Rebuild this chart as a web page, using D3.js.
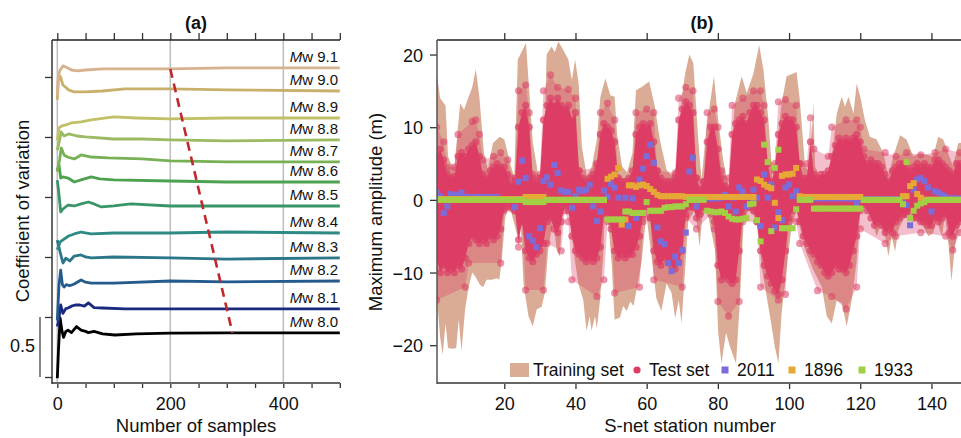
<!DOCTYPE html>
<html>
<head>
<meta charset="utf-8">
<script src="https://cdn.jsdelivr.net/npm/d3@7"></script>
<style>
    body { margin: 0; background: #fff; }
    svg text { font-family: "Liberation Sans", Arial, Helvetica, sans-serif; fill: #111; }
</style>
</head>
<body>
<svg id="fig" width="961" height="438"></svg>
<script>
//
// (a) convergence of coefficient of variation, (b) max amplitude per S-net station
//

// ---- panel (a) data: [sample count, offset CV]
var magnitudes = ['8.0', '8.1', '8.2', '8.3', '8.4', '8.5', '8.6', '8.7', '8.8', '8.9', '9.0', '9.1'];
var magColors = ['#000000', '#1a2a7e', '#255a8c', '#2b7688', '#2e8a84', '#389568', '#4da250', '#78b055', '#9bba62', '#c0c068', '#c8b06c', '#d8b28f'];
var cv80 = [[0, -0.01], [2, 0.22], [5, 0.49], [8, 0.39], [11, 0.33], [15, 0.38], [19, 0.39], [25, 0.37], [34, 0.42], [42, 0.39], [50, 0.38], [55, 0.37], [65, 0.38], [80, 0.36], [102, 0.35], [140, 0.36], [200, 0.365], [300, 0.367], [500, 0.367]];
var cv81 = [[0, 0.42], [3, 0.49], [6, 0.6], [10, 0.53], [15, 0.57], [19, 0.575], [25, 0.59], [32, 0.6], [40, 0.6], [48, 0.59], [55, 0.617], [65, 0.578], [80, 0.575], [120, 0.567], [200, 0.567], [300, 0.567], [500, 0.567]];
var cv82 = [[0, 0.47], [3, 0.77], [6, 0.89], [9, 0.77], [12, 0.75], [16, 0.77], [22, 0.76], [30, 0.775], [42, 0.808], [50, 0.79], [60, 0.783], [100, 0.783], [200, 0.8], [300, 0.792], [500, 0.8]];
var cv83 = [[0, 1.14], [5, 1.04], [10, 0.95], [15, 0.99], [22, 0.967], [30, 1.008], [42, 1.017], [50, 1.0], [60, 0.992], [100, 1.0], [200, 0.992], [300, 0.983], [500, 0.992]];
var cv84 = [[0, 1.06], [5, 1.125], [10, 1.142], [20, 1.175], [30, 1.192], [42, 1.208], [60, 1.192], [100, 1.2], [200, 1.2], [300, 1.208], [500, 1.2]];
var cv85 = [[0, 1.64], [3, 1.52], [6, 1.375], [10, 1.4], [19, 1.433], [30, 1.425], [42, 1.442], [55, 1.458], [65, 1.442], [78, 1.417], [100, 1.425], [130, 1.442], [200, 1.425], [300, 1.425], [500, 1.425]];
var cv86 = [[0, 1.725], [3, 1.767], [6, 1.658], [10, 1.667], [19, 1.658], [30, 1.625], [42, 1.642], [60, 1.667], [75, 1.65], [100, 1.642], [200, 1.633], [300, 1.625], [500, 1.625]];
var cv87 = [[0, 1.71], [4, 1.81], [7, 1.908], [12, 1.85], [18, 1.833], [30, 1.817], [42, 1.85], [60, 1.833], [90, 1.825], [150, 1.817], [200, 1.8], [300, 1.792], [500, 1.792]];
var cv88 = [[0, 1.89], [4, 1.975], [7, 2.042], [12, 2.008], [20, 2.025], [35, 2.008], [50, 2.0], [100, 1.983], [150, 1.983], [200, 1.975], [300, 1.967], [500, 1.975]];
var cv89 = [[0, 1.975], [3, 2.075], [8, 2.092], [15, 2.1], [25, 2.117], [42, 2.125], [60, 2.142], [100, 2.167], [140, 2.158], [200, 2.15], [300, 2.158], [500, 2.158]];
var cv90 = [[0, 2.31], [2, 2.49], [5, 2.508], [10, 2.433], [20, 2.392], [30, 2.375], [50, 2.375], [80, 2.383], [120, 2.4], [200, 2.4], [300, 2.392], [500, 2.383]];
var cv91 = [[0, 2.35], [2, 2.517], [5, 2.558], [10, 2.592], [15, 2.583], [25, 2.558], [35, 2.55], [50, 2.558], [80, 2.567], [150, 2.567], [200, 2.567], [300, 2.575], [500, 2.575]];
var cvCurves = [cv80, cv81, cv82, cv83, cv84, cv85, cv86, cv87, cv88, cv89, cv90, cv91];
var dashLine = [[200, 2.567], [310, 0.367]];
var sampleTicks = [0, 50, 100, 150, 200, 250, 300, 350, 400, 450, 500];
var sampleLabels = [0, 200, 400];
var cvTicks = [0, 0.5, 1, 1.5, 2, 2.5];

// ---- panel (b) data: [station, amplitude m]
var trainHi = [[1, 17.5], [2, 14], [3.5, 13], [4.2, 6], [5, 5], [6, 4.6], [7.6, 13.3], [8.7, 12.4], [9.7, 13.8], [11, 15.5], [12, 18], [13, 14.2], [14.3, 6.4], [15.4, 4.1], [16.8, 7.8], [18.7, 8.7], [20, 8.3], [21.9, 4.6], [22.8, 3.2], [23.8, 19.3], [26.1, 21.6], [27, 15], [28, 8], [29.5, 3.5], [31, 4], [31.9, 20], [33.3, 21.1], [34.2, 20.3], [35.2, 21.8], [36.6, 20.6], [38, 19.3], [39, 16.5], [39.9, 19.3], [40.9, 16], [41.8, 7.3], [43.2, 3.2], [44.6, 4.6], [46, 8.3], [47, 14.2], [48.4, 16.7], [49.8, 14.4], [51, 14.2], [51.7, 9], [53.1, 4.6], [54.5, 3.8], [56, 6.4], [57, 15.1], [58.8, 15.6], [60.7, 16.3], [62.3, 12.8], [63.7, 8.3], [65.6, 4.1], [67, 3.4], [68.4, 4.6], [69.8, 13.8], [70.8, 17.4], [72, 20], [73.1, 18.8], [74.5, 8.3], [75.4, 2.8], [76.8, 10], [78.9, 17], [80.1, 11], [81.5, 5.5], [83, 1.8], [84.8, 13.3], [86.7, 17], [88.1, 14.7], [90, 17.4], [91.6, 21.3], [92.8, 17.9], [94.2, 11], [95.4, 2.8], [96.5, 6.9], [97.9, 13.3], [99.3, 17], [101.2, 17.4], [102.1, 17.6], [103, 13.8], [104.5, 4.6], [105.9, 3.7], [106.8, 13.5], [107.3, 4.6], [108.7, 3.2], [111, 3.7], [112.4, 7.3], [113.4, 11.9], [114.8, 14.2], [115.7, 12.8], [116.7, 14.2], [118.1, 11.9], [119, 16], [120, 14.2], [121.3, 11], [122.7, 8.7], [124.6, 8.3], [126.5, 6.4], [127.9, 3.2], [129.3, 6], [131.2, 8.9], [133, 8.3], [134.9, 6], [136.8, 6.4], [138.6, 6.2], [140.5, 6], [141.9, 8.7], [143.3, 8.3], [144.7, 6.4], [146.1, 4.6], [147.5, 7.8], [150, 8]];
var trainLo = [[1, -13], [2, -19], [2.7, -21.3], [3.5, -17], [4.2, -20.4], [5.5, -20.5], [6.5, -20.4], [7.2, -16.5], [8, -20.8], [9, -15], [10, -12], [11, -10], [11.8, -10.5], [13.2, -11.7], [14.1, -12], [15, -11], [16.5, -11], [17.9, -10.8], [18.6, -11], [19.3, -8.3], [20.2, -2.8], [20.7, -1.4], [22, -1.8], [23.5, -4.6], [24.2, -6], [24.6, -3], [25.4, -11.5], [26.8, -16], [28, -17.4], [29.1, -15.1], [30.5, -14.7], [31.4, -12.8], [32.4, -6.4], [33.8, -2.8], [34.7, -6.9], [35.6, -7.8], [36.3, -1.4], [37.5, -1], [38.5, -2.5], [39.4, -6.9], [40.8, -11.5], [42.2, -13.8], [43.1, -18], [44, -16], [44.5, -18], [45.5, -16], [46, -17.7], [46.9, -13.8], [47.8, -7.5], [48.3, -0.6], [49.2, -3], [50.2, -9], [51, -16.5], [52.5, -16.2], [53.4, -14.6], [54.4, -15.3], [55.4, -14], [56.3, -14.6], [57.7, -11], [58.6, -8.4], [59.9, -2], [61.3, -7.5], [62.7, -13.5], [64.1, -15.3], [65.6, -11.5], [67, -12.8], [68, -16.3], [69, -13.8], [69.8, -17], [70.8, -9.6], [71.7, -2.8], [73.6, -1.4], [74.3, -4], [74.9, -6.4], [75.6, -2.5], [76.8, -1], [79.2, -6.9], [80.1, -18.3], [81, -22.5], [82.3, -18.3], [83.4, -20.2], [85.1, -22.5], [86.2, -13.8], [87.3, -2.3], [89, -1.4], [90.9, -2.8], [92.3, -9.2], [93.7, -13.3], [95.1, -17.4], [96, -20.2], [97, -22.5], [97.9, -15.6], [99.3, -9.6], [100.7, -3.7], [102.1, -1.4], [102.6, -2.8], [104.5, -6.9], [106.8, -9.6], [109.2, -12], [110.6, -16], [112, -17], [113.4, -13.8], [114.8, -14.2], [116.2, -17.4], [117.6, -13.8], [119, -8.3], [120, -1.8], [120.9, -0.9], [122.7, -1.8], [124.6, -5], [125.6, -3.7], [127, -5], [127.9, -7.8], [128.8, -5], [129.8, -7.1], [130.7, -4.1], [132, -2.8], [134, -1.8], [135.8, -2.8], [137.7, -3.7], [139.1, -5], [140.5, -4.6], [141.5, -2.8], [142.9, -5], [143.8, -2.3], [144.7, -5.5], [145.6, -11.2], [146.6, -6.4], [148, -2.8], [150, -3]];
// test set: dense core and scattered outer extent
var testCoreHi = [[1, 6], [2, 7], [3, 5.5], [4, 3.5], [5, 3], [6, 3.2], [7, 6], [8, 6.5], [9, 6], [10, 7], [11, 7.5], [12, 8], [13, 6], [14, 3.5], [15, 3], [16, 4], [17, 4.5], [18, 5], [19, 4.5], [20, 4.5], [21, 3.5], [22, 2], [23, 2.5], [24, 10], [25, 12], [26, 13], [27, 10], [28, 3], [29, 2.5], [30, 3], [31, 11], [32, 13], [33, 14], [34, 13], [35, 14], [36, 13], [37, 12.5], [38, 13], [39, 11], [40, 12], [41, 4], [42, 3], [43, 2.5], [44, 3], [45, 3.5], [46, 5], [47, 9], [48, 10.5], [49, 10], [50, 9.5], [51, 8], [52, 3], [53, 2.5], [54, 2.5], [55, 3], [56, 4], [57, 9], [58, 10], [59, 10.5], [60, 10], [61, 10.5], [62, 8], [63, 4], [64, 3], [65, 2.5], [66, 2.5], [67, 2.5], [68, 3], [69, 11], [70, 12.5], [71, 13.5], [72, 13], [73, 12], [74, 3], [75, 1.5], [76, 2.5], [77, 8], [78, 10], [79, 10], [80, 7], [81, 3], [82, 2], [83, 1.5], [84, 9], [85, 10.5], [86, 11], [87, 11.5], [88, 10.5], [89, 12], [90, 13], [91, 13], [92, 12], [93, 11], [94, 5], [95, 2.5], [96, 4], [97, 9], [98, 10.5], [99, 11.5], [100, 11], [101, 11], [102, 10], [103, 5], [104, 3], [105, 3], [106, 8], [107, 3.5], [108, 3], [109, 3.5], [110, 3.5], [111, 4], [112, 6], [113, 7.5], [114, 8.5], [115, 8], [116, 8.5], [117, 8], [118, 8.5], [119, 9], [120, 8], [121, 6], [122, 5], [123, 5.5], [124, 5], [125, 5], [126, 4.5], [127, 3.5], [128, 2.5], [129, 4], [130, 4.5], [131, 5], [132, 5], [133, 4.5], [134, 4], [135, 4.5], [136, 5], [137, 4.5], [138, 5], [139, 4.5], [140, 4.5], [141, 5.5], [142, 5.5], [143, 5], [144, 4.5], [145, 4], [146, 3.5], [147, 5], [148, 5], [150, 5]];
var testCoreLo = [[1, -8], [2, -10], [3, -9], [4, -10], [5, -9.5], [6, -10], [7, -9], [8, -9.5], [9, -8], [10, -6], [11, -5], [12, -5.5], [13, -6], [14, -5.5], [15, -6], [16, -5], [17, -5.5], [18, -5], [19, -4], [20, -1.2], [21, -0.8], [22, -1], [23, -1.5], [24, -5.5], [25, -3], [26, -7], [27, -8], [28, -8.5], [29, -7.5], [30, -7], [31, -6], [32, -3], [33, -2.5], [34, -4], [35, -4.5], [36, -3], [37, -0.8], [38, -1.5], [39, -5], [40, -7], [41, -7.5], [42, -8], [43, -8.5], [44, -8], [45, -8.5], [46, -8], [47, -6.5], [48, -2], [49, -2], [50, -4], [51, -7], [52, -8], [53, -7.5], [54, -8], [55, -7.5], [56, -7.5], [57, -6.5], [58, -5], [59, -2], [60, -1], [61, -2.5], [62, -7], [63, -8.5], [64, -9], [65, -8], [66, -8.5], [67, -9], [68, -9.5], [69, -8.5], [70, -7], [71, -2], [72, -1], [73, -1], [74, -2.5], [75, -2], [76, -1], [77, -1], [78, -1.5], [79, -3], [80, -9], [81, -11], [82, -10.5], [83, -11], [84, -11.5], [85, -11], [86, -7], [87, -2], [88, -1], [89, -1], [90, -1.5], [91, -3], [92, -7], [93, -9], [94, -10.5], [95, -11.5], [96, -12.5], [97, -13], [98, -11], [99, -7], [100, -2.5], [101, -1.5], [102, -1.2], [103, -3], [104, -5], [105, -6], [106, -7], [107, -7.5], [108, -8.5], [109, -9], [110, -10], [111, -10.5], [112, -10], [113, -9], [114, -9.5], [115, -9.5], [116, -10], [117, -9], [118, -7], [119, -5], [120, -1.5], [121, -0.7], [122, -1.5], [123, -2.5], [124, -3.5], [125, -3], [126, -3.5], [127, -4.5], [128, -4], [129, -4.5], [130, -3], [131, -2.5], [132, -2], [133, -2], [134, -1.5], [135, -2.5], [136, -2.5], [137, -3], [138, -3], [139, -3.5], [140, -3.5], [141, -2.5], [142, -3], [143, -2.5], [144, -2], [145, -4.5], [146, -5], [147, -3.5], [148, -3], [150, -3]];
var testOuterHi = [[1, 10], [3, 8], [4, 4.5], [6, 4.5], [7, 9], [11, 10.8], [12, 11], [13, 9], [14, 5.5], [17, 6], [19, 6.5], [21, 5.5], [22, 3], [23, 3], [24, 15], [26, 15.8], [27, 12], [28, 3.5], [30, 3.5], [31, 15], [33, 17.2], [35, 15.5], [38, 15.2], [40, 14], [41, 4], [46, 4.5], [47, 12], [49, 13.3], [51, 11], [52, 3], [56, 3], [57, 12], [60, 12.5], [62, 12], [63, 4], [68, 3.7], [69, 14], [71, 15.5], [73, 15], [74, 3], [76, 2.5], [77, 12], [79, 12.5], [80, 10], [81, 4], [83, 3], [84, 13], [87, 14], [90, 15], [92, 15], [93, 13], [94, 5], [96, 5], [97, 13.5], [99, 13.8], [102, 13], [103, 5], [105, 5], [106, 11.3], [107, 7], [111, 6], [112, 10], [116, 11], [119, 11], [120, 10], [121, 7], [127, 6.5], [130, 6], [133, 6.5], [137, 6.2], [141, 6.5], [144, 7], [148, 6.5], [150, 6.5]];
var testOuterLo = [[1, -13.8], [9, -12], [10, -8.7], [19, -8.7], [20, -1.5], [23, -1.5], [24, -6.5], [25, -3], [26, -12.4], [31, -12.4], [32, -6], [36, -7], [37, -1.5], [38, -3], [39, -11], [46, -13.3], [48, -11], [49, -3], [50, -3], [51, -12.8], [58, -12], [59, -3], [61, -2.5], [62, -11], [70, -12], [71, -2.5], [74, -4], [78, -2], [79, -4], [80, -14], [83, -16], [86, -14], [87, -3], [91, -3], [92, -12], [97, -13.8], [99, -13], [100, -3], [102, -3], [103, -6], [108, -12.5], [112, -13.3], [116, -15], [119, -12], [120, -4], [127, -6], [130, -5], [137, -4.5], [144, -5], [146, -6.9], [148, -4.5], [150, -4.5]];
// historic events, one value per station 1..150
var ev2011 = [1.0, 0.5, -1.8, -0.9, 0.8, 0.7, 0.7, 1.0, 0.4, 0.4,
    0.4, 0.4, 0.4, 0.4, 0.4, 0.4, 0.4, 0.4, 0.1, 0.1,
    0.1, 0.1, -1.0, 2.5, 5.4, 3.0, -5.0, -5.6, -6.5, -3.9,
    2.6, 3.1, 2.1, 4.8, 3.7, 1.3, 1.1, 1.1, -1.1, 0.5,
    1.4, 1.2, 1.4, 2.1, -0.9, -2.9, -1.6, 1.3, 0.4, 2.2,
    1.7, 0.3, -2.7, 0.3, -3.6, 0.2, -2.5, 2.8, 4.3, 6.0,
    7.6, 5.1, -3.8, -5.7, -6.1, -8.7, -9.8, -7.8, -8.7, -6.9,
    -4.5, 3.9, 5.8, -0.9, 0.2, 0.2, 0.2, 0.2, 0.2, 0.2,
    0.3, 0.7, -0.9, 0.3, -1.6, 1.7, 1.2, -0.9, 0.3, 1.4,
    0.3, -3.6, 3.5, 0.3, 2.1, -3.8, -1.7, -2.8, 1.7, 2.1,
    0.5, 1.2, 0.2, 0.2, 0.2, 0.2, 0.2, 0.2, 0.2, 0.2,
    0.2, 0.2, 0.2, 0.2, 0.2, 0.2, 0.2, 0.2, -0.4, 0.1,
    0.1, 0.1, 0.1, 0.1, 0.1, 0.1, 0.1, 0.1, 0.1, 0.1,
    0.1, -0.4, -0.7, -3.5, 1.4, 2.8, 3.0, 2.6, 1.7, -1.6,
    1.2, 1.0, 0.7, 0.4, 0.2, 0.2, 0.2, 0.2, 0.2, 0.2];
var ev1896 = [0.1, 0.1, 0.1, 0.1, 0.1, 0.1, 0.1, 0.1, 0.1, 0.1,
    0.1, 0.1, 0.1, 0.1, 0.1, 0.1, 0.1, 0.1, 0.1, 0.1,
    0.1, 0.1, 0.1, 0.1, 0.1, 0.4, 0.4, 0.4, 0.4, 0.4,
    0.4, 0, 0, 0, 0, 0, 0, 0, 0, 0,
    0, 0, 0, 0, 0, 0, 0, 0, 2.9, 3.2,
    3.5, 4.4, -3.4, -2.7, 2.0, 2.0, 1.8, 2.0, 2.1, 1.9,
    1.5, 1.1, 0.7, 0.5, 0.5, 0.5, 0.5, 0.5, 0.5, 0.5,
    0.4, 0.4, 0.4, 0.4, 0.4, 0.4, 0.4, 0.4, 0.4, 0.4,
    0.4, 0.4, 0.4, 0.4, 0.4, 0.4, 0.4, 0.4, 0.4, 0.4,
    2.8, 2.6, 2.1, 1.8, 1.6, -0.4, -2.5, 3.3, 3.5, 3.5,
    3.6, 4.4, 0.5, 0.4, 0.4, 0.4, 0.4, 0.4, 0.4, 0.4,
    0.4, 0.4, 0.4, 0.4, 0.4, 0.4, 0.4, 0.4, 0.4, 0.4,
    0, 0, 0, 0, 0, 0, 0, 0, 0, 0,
    0, 0.5, 0.5, 1.9, 2.3, 0.8, 0.3, 0, 0, 0,
    0, 0, 0, 0, 0, 0, 0, 0, 0, 0];
var ev1933 = [0, 0, 0, 0, 0, 0, 0, 0, 0, 0,
    0, 0, 0, 0, 0, 0, 0, 0, 0, 0,
    0, 0, 0, 0, 0, -0.3, -0.3, -0.3, -0.3, -0.3,
    -0.3, 0, 0, 0, 0, 0, 0, 0, 0, 0,
    0, 0, 0, 0, 0, 0, 0, 0, -2.7, -2.7,
    -2.7, -2.7, -2.7, -1.6, -1.6, -1.8, -1.8, -1.8, -1.8, -0.3,
    -1.5, -1.5, -1.5, -1.5, -1.1, -1.0, -1.0, -0.9, -0.9, -0.9,
    -0.6, 0, 0, 0, 0, 0, -1.5, -1.6, -1.7, -1.7,
    -1.6, -1.8, -2.3, -2.6, -2.7, -2.7, -2.6, -2.5, -0.6, -0.5,
    -2.8, -5.7, 7.6, 5.2, -4.3, 4.4, 6.9, -3.9, -3.9, -3.9,
    -3.9, -1.3, 0, 0, 0, 0, -1.2, -1.2, -1.2, -1.2,
    -1.2, -1.2, -1.2, -1.2, -1.2, -1.2, -1.2, -1.2, -1.2, -1.2,
    0, 0, 0, 0, 0, 0, 0, 0, 0, 0,
    0, -0.6, 5.2, -2.5, -1.5, -0.8, -0.5, -0.3, 0, 0,
    0, 0, 0, 0, 0, 0, 0, 0, 0, 0];
var stationTicks = [20, 40, 60, 80, 100, 120, 140];
var ampTicks = [-20, -10, 0, 10, 20];
var legendNames = ['Training set', 'Test set', '2011', '1896', '1933'];
var eventColors = ['#7c6cd9', '#e6a936', '#a2cf44'];

var svg = d3.select("#fig");
var font = '"Liberation Sans", Arial, Helvetica, sans-serif';
var red = "#dd3d65";
var tan = "#daac96";

function styleAxis(g, size) {
    g.attr("font-family", font).attr("font-size", size);
    g.select(".domain").remove();
    g.selectAll(".tick line").attr("stroke", "#333").attr("stroke-width", 1.3);
    g.selectAll(".tick text").attr("fill", "#111");
}

// ========== panel (a)
var ax = d3.scaleLinear().domain([-9.4, 500]).range([52, 339.8]);
var ay = d3.scaleLinear().domain([-0.05, 2.808]).range([383, 40]);

svg.append("clipPath").attr("id", "clipA")
    .append("rect").attr("x", 52).attr("y", 40).attr("width", 288).attr("height", 343);

var gA = svg.append("g");
var plotA = gA.append("g").attr("clip-path", "url(#clipA)");

// gray guide lines
plotA.selectAll(".grid")
    .data(sampleLabels)
    .enter()
    .append("line")
    .attr("x1", function (d) { return ax(d); })
    .attr("x2", function (d) { return ax(d); })
    .attr("y1", 40).attr("y2", 383)
    .attr("stroke", "#bdbdbd").attr("stroke-width", 1.5);

var cvLine = d3.line()
    .x(function (d) { return ax(d[0]); })
    .y(function (d) { return ay(d[1]); });

plotA.selectAll(".cv")
    .data(cvCurves)
    .enter()
    .append("path")
    .attr("d", cvLine)
    .attr("fill", "none")
    .attr("stroke", function (d, i) { return magColors[i]; })
    .attr("stroke-width", 2.8)
    .attr("stroke-linejoin", "round");

plotA.append("path")
    .attr("d", cvLine(dashLine))
    .attr("fill", "none")
    .attr("stroke", "#c0282d")
    .attr("stroke-width", 2.6)
    .attr("stroke-dasharray", "9,6");

// magnitude labels
var magLab = gA.selectAll(".mag")
    .data(cvCurves)
    .enter()
    .append("text")
    .attr("x", 338)
    .attr("y", function (d) { return ay(d[d.length - 1][1]) - 6; })
    .attr("text-anchor", "end")
    .attr("font-size", 15);
magLab.append("tspan").attr("font-style", "italic").text("M");
magLab.append("tspan").text(function (d, i) { return "w " + magnitudes[i]; });

// axes (a)
var axTop = gA.append("g").attr("transform", "translate(0,40)")
    .call(d3.axisTop(ax).tickValues(sampleTicks).tickSize(7).tickFormat(""));
styleAxis(axTop, 18);
var axBot = gA.append("g").attr("transform", "translate(0,383)")
    .call(d3.axisBottom(ax).tickValues(sampleTicks).tickSize(5).tickPadding(9)
        .tickFormat(function (d) { return sampleLabels.indexOf(d) >= 0 ? d : ""; }));
styleAxis(axBot, 18);
var axLeft = gA.append("g").attr("transform", "translate(52,0)")
    .call(d3.axisLeft(ay).tickValues(cvTicks).tickSize(7).tickFormat(""));
styleAxis(axLeft, 18);

gA.append("line").attr("x1", 52).attr("x2", 340).attr("y1", 40).attr("y2", 40).attr("stroke", "#222").attr("stroke-width", 1.4);
gA.append("line").attr("x1", 52).attr("x2", 340).attr("y1", 383).attr("y2", 383).attr("stroke", "#666").attr("stroke-width", 2.2);
gA.append("line").attr("x1", 52).attr("x2", 52).attr("y1", 40).attr("y2", 384).attr("stroke", "#333").attr("stroke-width", 1.5);

// 0.5 scale bar
gA.append("line")
    .attr("x1", 40).attr("x2", 40)
    .attr("y1", ay(0.5)).attr("y2", ay(0))
    .attr("stroke", "#444").attr("stroke-width", 1.3);
gA.append("text").attr("x", 35).attr("y", 352).attr("text-anchor", "end").attr("font-size", 18).text("0.5");

gA.append("text").attr("x", 196).attr("y", 29).attr("text-anchor", "middle")
    .attr("font-size", 18).attr("font-weight", "bold").text("(a)");
gA.append("text").attr("x", 196).attr("y", 432).attr("text-anchor", "middle")
    .attr("font-size", 18.5).text("Number of samples");
gA.append("text")
    .attr("transform", "translate(29,211) rotate(-90)")
    .attr("text-anchor", "middle")
    .attr("font-size", 18.5)
    .text("Coefficient of variation");

// ========== panel (b)
var bx = d3.scaleLinear().domain([1.1, 148.3]).range([437, 961]);
var by = d3.scaleLinear().domain([-25.2, 22]).range([383, 40]);

svg.append("clipPath").attr("id", "clipB")
    .append("rect").attr("x", 437).attr("y", 40).attr("width", 524).attr("height", 343);

var gB = svg.append("g");
var plotB = gB.append("g").attr("clip-path", "url(#clipB)");

var ptLine = d3.line()
    .x(function (d) { return bx(d[0]); })
    .y(function (d) { return by(d[1]); });

function band(hi, lo) {
    return ptLine(hi.concat(lo.slice().reverse())) + "Z";
}

function dots(g, pts, r, op) {
    g.append("g")
        .selectAll("circle")
        .data(pts)
        .enter()
        .append("circle")
        .attr("cx", function (d) { return bx(d[0]); })
        .attr("cy", function (d) { return by(d[1]); })
        .attr("r", r)
        .attr("fill", red)
        .attr("fill-opacity", op);
}

// training envelope
plotB.append("path")
    .attr("d", band(trainHi, trainLo))
    .attr("fill", tan);

// test set: scattered outer part, edge dots, dense core
plotB.append("path")
    .attr("d", band(testOuterHi, testOuterLo))
    .attr("fill", red)
    .attr("fill-opacity", 0.33);

dots(plotB, testOuterHi.concat(testOuterLo), 3.6, 0.55);

plotB.append("path")
    .attr("d", band(testCoreHi, testCoreLo))
    .attr("fill", red);

dots(plotB, testCoreHi.concat(testCoreLo), 3.6, 0.7);

// historic events as squares
var events = [ev2011, ev1896, ev1933];
var sq = 6;
events.forEach(function (ev, k) {
    plotB.append("g")
        .selectAll("rect")
        .data(ev)
        .enter()
        .append("rect")
        .attr("x", function (d, i) { return bx(i + 1) - sq / 2; })
        .attr("y", function (d) { return by(d) - sq / 2; })
        .attr("width", sq)
        .attr("height", sq)
        .attr("fill", eventColors[k]);
});

// legend
var lg = gB.append("g");
lg.append("rect").attr("x", 510).attr("y", 363).attr("width", 19).attr("height", 14).attr("fill", tan);
lg.append("text").attr("x", 533).attr("y", 376).attr("font-size", 17.5).text(legendNames[0]);
lg.append("circle").attr("cx", 637).attr("cy", 370).attr("r", 3.6).attr("fill", red);
lg.append("text").attr("x", 649).attr("y", 376).attr("font-size", 17.5).text(legendNames[1]);
var legX = [725, 792, 862];
for (var k = 0; k < 3; k++) {
    lg.append("rect").attr("x", legX[k] - 3.5).attr("y", 366.5).attr("width", 7).attr("height", 7).attr("fill", eventColors[k]);
    lg.append("text").attr("x", legX[k] + 12).attr("y", 376).attr("font-size", 17.5).text(legendNames[k + 2]);
}

// axes (b)
var bTop = gB.append("g").attr("transform", "translate(0,40)")
    .call(d3.axisTop(bx).tickValues(stationTicks).tickSize(7).tickFormat(""));
styleAxis(bTop, 18);
var bBot = gB.append("g").attr("transform", "translate(0,383)")
    .call(d3.axisBottom(bx).tickValues(stationTicks).tickSize(6).tickPadding(8));
styleAxis(bBot, 18);
var bLeft = gB.append("g").attr("transform", "translate(437,0)")
    .call(d3.axisLeft(by).tickValues(ampTicks).tickSize(7).tickPadding(7));
styleAxis(bLeft, 18);
bLeft.selectAll(".tick text").attr("dy", "0.36em");

gB.append("line").attr("x1", 437).attr("x2", 961).attr("y1", 40).attr("y2", 40).attr("stroke", "#222").attr("stroke-width", 1.4);
gB.append("line").attr("x1", 437).attr("x2", 961).attr("y1", 383).attr("y2", 383).attr("stroke", "#666").attr("stroke-width", 2.2);
gB.append("line").attr("x1", 437).attr("x2", 437).attr("y1", 40).attr("y2", 384).attr("stroke", "#555").attr("stroke-width", 1.5);

gB.append("text").attr("x", 702).attr("y", 29).attr("text-anchor", "middle")
    .attr("font-size", 18).attr("font-weight", "bold").text("(b)");
gB.append("text").attr("x", 690).attr("y", 432).attr("text-anchor", "middle")
    .attr("font-size", 18.5).text("S-net station number");
gB.append("text")
    .attr("transform", "translate(382,212) rotate(-90)")
    .attr("text-anchor", "middle")
    .attr("font-size", 18.5)
    .text("Maximum amplitude (m)");
</script>
</body>
</html>
